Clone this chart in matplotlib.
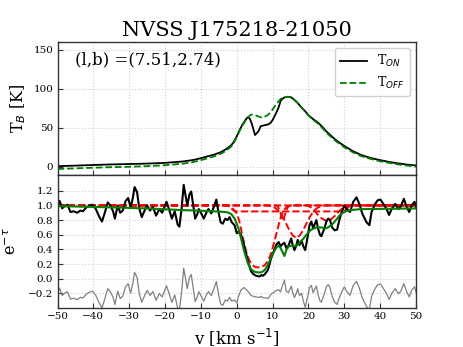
import matplotlib
matplotlib.use("Agg")
import matplotlib.pyplot as plt
import numpy as np

plt.rcParams['font.family'] = ['DejaVu Serif']
plt.rcParams['mathtext.fontset'] = 'dejavusans'

# ---------------- data ----------------
title = "NVSS J175218-21050"
coord_label = "(l,b) =(7.51,2.74)"

# emission profiles (top panel)
v_em = [-50, -45, -40, -35, -30, -25, -20, -15, -12, -10, -8, -6, -4.3, -3, -1.5, -0.8, 0, 0.8,
        1.6, 2.3, 3.0, 3.6, 4.2, 5.1, 6.0, 6.7, 7.6, 8.6, 9.4, 10.0, 10.9, 11.6, 12.3, 13.2,
        14.2, 15.0, 15.6, 16.8, 17.9, 19.0, 20.0, 21.3, 22.6, 23.8, 24.9, 26.0, 27.3, 28.6,
        30.0, 32.4, 34.8, 37.4, 40.0, 42.5, 45.1, 47.5, 50]
t_on = [0.8, 1.5, 2.3, 3.0, 3.5, 4.1, 5.0, 6.8, 8.8, 11.0, 13.5, 16.0, 19.0, 22.5, 27.7, 32, 39, 47,
        54, 59, 63.2, 62, 55, 40.6, 45, 52, 53, 54, 56, 59.8, 68, 75, 85, 88.5,
        89.6, 89.2, 87.4, 82.5, 76.8, 71.5, 66, 61, 56.8, 51.5, 45.7, 41, 35.5, 31,
        26.6, 20, 14.9, 11.2, 8.5, 6.2, 4.3, 2.8, 1.7]
v_off = [-50, -45, -40, -35, -30, -25, -20, -15, -12, -10, -8, -6, -4.3, -3, -1.5, -0.8, 0, 0.8,
         1.6, 2.3, 3.0, 3.9, 4.6, 5.3, 6.0, 6.7, 7.6, 8.6, 9.5, 10.5, 11.4, 12.3, 13.2, 14.2,
         15.0, 15.6, 16.8, 17.9, 19.0, 20.0, 21.3, 22.6, 23.8, 24.9, 26.0, 27.3, 28.6, 30.0,
         32.4, 34.8, 37.4, 40.0, 42.5, 45.1, 47.5, 50]
t_off = [-2.8, -2.0, -1.2, -0.5, 0.0, 0.8, 2.0, 4.0, 6.2, 8.5, 11.0, 13.8, 17.0, 20.5, 26, 30.5, 38, 46,
         53, 58, 62.5, 66.8, 66.5, 65.8, 64.5, 63.2, 63.5, 66, 70, 76.8, 82.5, 87, 89, 89.5,
         89, 87.5, 82.5, 76.5, 71, 65.5, 60, 55.5, 50, 44, 39.5, 34, 29.5, 25,
         18.5, 13.5, 10, 7, 5, 3, 1.5, 0.3]

# absorption spectrum e^-tau (bottom panel), total fit on the same velocities
v_abs = [-50.0, -49.4, -48.7, -48.0, -47.2, -46.4, -45.5, -44.5, -43.6, -42.9, -42.0, -41.0,
         -40.2, -39.3, -38.5, -37.6, -36.8, -36.0, -35.3, -34.5, -34.0, -33.2, -32.5, -31.8,
         -31.0, -30.3, -29.6, -29.0, -28.5, -27.8, -27.2, -26.5, -25.8, -25.0, -24.2, -23.4,
         -22.5, -21.6, -20.8, -19.6, -18.9, -18.1, -17.3, -16.5, -16.0, -15.4, -14.8, -14.3,
         -13.8, -13.2, -12.7, -12.2, -11.6, -11.0, -10.6, -9.9, -9.2, -8.5, -7.9, -7.1,
         -6.4, -5.7, -5.1, -4.5, -3.9, -3.2, -2.6, -2.0, -1.4, -0.6, 0.0, 0.5,
         1.2, 2.1, 3.1, 4.0, 4.7, 5.4, 6.3, 6.9, 7.3, 7.8, 8.7, 9.6,
         10.5, 11.1, 11.7, 12.2, 12.7, 13.3, 13.8, 14.4, 15.2, 15.6, 16.1, 16.6,
         17.0, 17.5, 18.1, 18.5, 19.1, 19.8, 20.3, 20.8, 21.3, 22.2, 22.7, 23.2,
         23.6, 24.4, 25.0, 25.5, 26.0, 26.6, 27.3, 28.0, 28.6, 29.3, 30.0, 30.7,
         31.6, 32.5, 33.4, 34.2, 35.0, 36.2, 37.0, 37.6, 38.6, 39.3, 40.1, 40.9,
         41.8, 42.5, 43.2, 44.2, 45.1, 45.8, 46.6, 47.4, 48.1, 48.8, 49.6, 50.0]
e_tau = [1.00, 1.06, 0.96, 0.99, 1.01, 0.91, 0.92, 0.90, 0.93, 0.92, 0.97, 1.00,
         1.01, 0.95, 0.86, 0.78, 0.90, 1.04, 1.00, 0.92, 0.82, 1.00, 0.90, 0.93,
         1.06, 1.10, 0.97, 1.10, 1.25, 1.18, 0.96, 0.84, 0.92, 1.00, 0.93, 0.98,
         0.86, 0.95, 0.90, 1.05, 0.95, 0.82, 0.92, 0.74, 0.71, 0.95, 1.28, 1.14,
         1.00, 1.15, 1.19, 1.02, 0.82, 0.88, 0.95, 0.89, 0.82, 0.90, 0.95, 0.89,
         0.98, 1.08, 0.91, 0.77, 0.75, 0.82, 0.80, 0.84, 0.77, 0.73, 0.62, 0.64,
         0.60, 0.45, 0.24, 0.10, 0.06, 0.04, 0.03, 0.05, 0.04, 0.06, 0.12, 0.28,
         0.40, 0.47, 0.50, 0.44, 0.47, 0.49, 0.42, 0.45, 0.55, 0.46, 0.39, 0.45,
         0.53, 0.46, 0.52, 0.45, 0.39, 0.58, 0.73, 0.78, 0.69, 0.80, 0.68, 0.60,
         0.58, 0.68, 0.78, 0.82, 0.80, 0.70, 0.66, 0.67, 0.80, 0.91, 1.00, 0.95,
         0.91, 1.05, 1.11, 1.02, 0.89, 0.77, 0.73, 0.91, 1.02, 1.07, 1.08, 1.02,
         0.95, 0.87, 0.95, 1.02, 0.95, 0.99, 1.09, 0.98, 0.91, 1.00, 1.05, 0.98]
e_tau_fit = [0.99, 0.99, 0.99, 0.988, 0.988, 0.987, 0.986, 0.985, 0.984, 0.983, 0.982, 0.981,
             0.98, 0.979, 0.978, 0.977, 0.976, 0.975, 0.974, 0.973, 0.972, 0.971, 0.97, 0.969,
             0.968, 0.967, 0.966, 0.965, 0.964, 0.963, 0.962, 0.961, 0.96, 0.959, 0.957, 0.955,
             0.953, 0.951, 0.949, 0.947, 0.945, 0.943, 0.941, 0.939, 0.938, 0.937, 0.936, 0.935,
             0.934, 0.933, 0.932, 0.931, 0.93, 0.929, 0.928, 0.927, 0.926, 0.925, 0.924, 0.922,
             0.92, 0.918, 0.916, 0.914, 0.912, 0.91, 0.905, 0.895, 0.875, 0.82, 0.75, 0.68,
             0.55, 0.37, 0.21, 0.13, 0.10, 0.09, 0.085, 0.09, 0.10, 0.12, 0.19, 0.29,
             0.38, 0.43, 0.45, 0.42, 0.37, 0.31, 0.39, 0.44, 0.45, 0.45, 0.445, 0.45,
             0.465, 0.49, 0.52, 0.54, 0.58, 0.62, 0.65, 0.67, 0.68, 0.70, 0.70, 0.70,
             0.70, 0.69, 0.69, 0.70, 0.72, 0.74, 0.78, 0.82, 0.86, 0.89, 0.91, 0.925,
             0.935, 0.94, 0.945, 0.948, 0.95, 0.95, 0.951, 0.951, 0.952, 0.952, 0.953, 0.953,
             0.954, 0.954, 0.955, 0.955, 0.956, 0.956, 0.957, 0.957, 0.958, 0.958, 0.959, 0.96]
resid_offset = -0.2

# individual fitted components, exp(-tau_i)
comp_a_v = [-50, -3, -2, -1, 0, 0.7, 1.7, 2.6, 3.5, 4.5, 5.2, 5.9, 6.7, 7.7, 8.7, 9.6, 10.5,
            11.5, 12.4, 13.2, 14, 15, 50]
comp_a = [1.0, 1.0, 0.985, 0.95, 0.89, 0.79, 0.56, 0.37, 0.25, 0.18, 0.16, 0.155, 0.16, 0.18,
          0.24, 0.35, 0.51, 0.70, 0.86, 0.94, 0.98, 1.0, 1.0]
comp_b_v = [-50, 11, 11.5, 12.0, 12.5, 12.9, 13.3, 13.8, 14.3, 15, 50]
comp_b = [1.0, 1.0, 0.98, 0.93, 0.85, 0.79, 0.85, 0.93, 0.98, 1.0, 1.0]
comp_c_v = [-50, 8.6, 9.6, 10.6, 11.6, 12.6, 13.6, 14.6, 15.6, 16.6, 17.6, 18.6, 19.6, 20.6,
            21.6, 22.6, 23.6, 24.6, 50]
comp_c = [1.0, 1.0, 0.99, 0.97, 0.93, 0.86, 0.77, 0.67, 0.59, 0.555, 0.59, 0.67, 0.77, 0.86,
          0.93, 0.97, 0.99, 1.0, 1.0]
comp_d_v = [-50, 19.5, 20.5, 21.5, 22.5, 23.5, 24.5, 25.2, 26.0, 27.0, 28.0, 29.0, 30.0, 31.0, 50]
comp_d = [1.0, 1.0, 0.98, 0.94, 0.88, 0.83, 0.80, 0.79, 0.80, 0.84, 0.89, 0.94, 0.98, 1.0, 1.0]
comp_e_v = [-50, -2.5, -2.0, -1.5, -1.0, -0.5, 0.0, 29.5, 30.0, 30.5, 31.0, 31.5, 32.0, 50]
comp_e = [1.0, 1.0, 0.99, 0.96, 0.935, 0.922, 0.918, 0.918, 0.925, 0.945, 0.97, 0.99, 1.0, 1.0]

top_yticks = [0, 50, 100, 150]
bottom_yticks = [-0.2, 0.0, 0.2, 0.4, 0.6, 0.8, 1.0, 1.2]
xticks = [-50, -40, -30, -20, -10, 0, 10, 20, 30, 40, 50]

# ---------------- figure ----------------
fig = plt.figure(figsize=(4.63, 3.47), dpi=100)
ax1 = fig.add_axes([0.1242, 0.4957, 0.7743, 0.3841])
ax2 = fig.add_axes([0.1242, 0.1133, 0.7743, 0.3824])

for ax in (ax1, ax2):
    ax.grid(True, linestyle=':', color='#d0d0d0', lw=0.8)
    ax.set_axisbelow(True)
    for s in ax.spines.values():
        s.set_color('#333333')
        s.set_linewidth(1.0)
    ax.tick_params(direction='in', length=3.5, width=0.8, labelsize=7.5,
                   color='#333333', pad=3)
    ax.set_xlim(-50, 50)
    ax.set_xticks(xticks)

# top panel
ax1.plot(v_em, t_on, color='black', lw=1.3, label=r'T$_{ON}$')
ax1.plot(v_off, t_off, color='green', lw=1.3, ls='--', label=r'T$_{OFF}$')
ax1.set_ylim(-10.5, 160)
ax1.set_yticks(top_yticks)
ax1.set_xticklabels([])
ax1.set_ylabel(r'T$_B$ [K]', fontsize=11.5, labelpad=4)
ax1.set_title(title, fontsize=15, pad=4)
ax1.text(0.05, 0.865, coord_label, transform=ax1.transAxes, fontsize=12, va='center')
leg = ax1.legend(loc='upper right', fontsize=9, frameon=True, fancybox=True,
                 framealpha=0.9, edgecolor='#cccccc', handlelength=2.2,
                 borderaxespad=0.5)

# bottom panel
resid = np.array(e_tau) - np.array(e_tau_fit) + resid_offset
ax2.plot(v_abs, resid, color='gray', lw=0.9)
for cv, cy in ((comp_e_v, comp_e), (comp_a_v, comp_a), (comp_b_v, comp_b),
               (comp_c_v, comp_c), (comp_d_v, comp_d)):
    ax2.plot(cv, cy, color='red', ls='--', lw=1.4)
ax2.plot(v_abs, e_tau, color='black', lw=1.5)
ax2.plot(v_abs, e_tau_fit, color='green', lw=1.5)
ax2.set_ylim(-0.395, 1.415)
ax2.set_yticks(bottom_yticks)
ax2.set_ylabel(r'e$^{-\tau}$', fontsize=11.5, labelpad=6)
ax2.set_xlabel(r'v [km s$^{-1}$]', fontsize=12, labelpad=4)

fig.savefig('out.png', dpi=100)
